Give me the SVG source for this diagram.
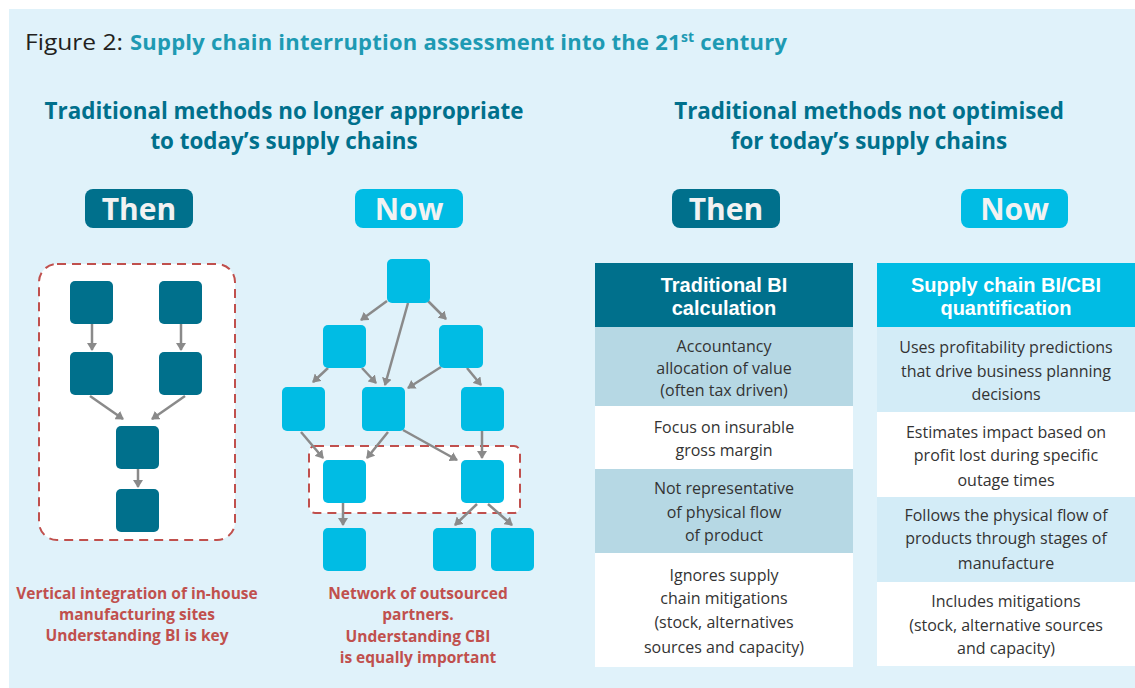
<svg xmlns="http://www.w3.org/2000/svg" width="1135" height="688" viewBox="0 0 1135 688">
<defs>
<style>
.bg{fill:#E0F2FA}
.dk{fill:#00708C}
.cy{fill:#00BCE4}
.pill{font-family:"Open Sans","Liberation Sans",sans-serif;font-weight:bold;font-size:30px;fill:#F2F2F2;text-anchor:middle}
.head{font-family:"Open Sans","Liberation Sans",sans-serif;font-weight:bold;font-size:22.4px;fill:#00708C;text-anchor:middle}
.th{font-family:"Liberation Sans",Arial,sans-serif;font-weight:bold;font-size:20px;fill:#FFFFFF;text-anchor:middle}
.td{font-family:"Open Sans","Liberation Sans",sans-serif;font-size:16px;fill:#333333;text-anchor:middle}
.red{font-family:"Open Sans","Liberation Sans",sans-serif;font-weight:bold;font-size:15.5px;fill:#C0504D;text-anchor:middle}
.dash{fill:#FFFFFF;stroke:#C0504D;stroke-width:2;stroke-dasharray:9 6}
.ar{stroke:#8A8A8A;stroke-width:2.5;fill:none;marker-end:url(#ah)}
</style>
<marker id="ah" viewBox="0 0 8 10" refX="7" refY="5" markerWidth="8" markerHeight="10" markerUnits="userSpaceOnUse" orient="auto">
<path d="M0,0 L8,5 L0,10 z" fill="#8A8A8A"/>
</marker>
</defs>
<rect x="0" y="0" width="1135" height="688" fill="#FFFFFF"/>
<rect class="bg" x="9" y="9" width="1126" height="679"/>

<g id="title">
<text x="25" y="50" font-family="Open Sans,Liberation Sans,sans-serif" font-size="22" fill="#231F20" textLength="98" lengthAdjust="spacingAndGlyphs">Figure 2:</text>
<text x="130" y="50" font-family="Open Sans,Liberation Sans,sans-serif" font-size="22" font-weight="bold" fill="#1E9AB3" textLength="657">Supply chain interruption assessment into the 21<tspan font-size="14" baseline-shift="8">st</tspan> century</text>
</g>

<g id="heading-left">
<text class="head" x="284" y="119">Traditional methods no longer appropriate</text>
<text class="head" x="284" y="149">to today’s supply chains</text>
</g>
<g id="heading-right">
<text class="head" x="869" y="119">Traditional methods not optimised</text>
<text class="head" x="869" y="149">for today’s supply chains</text>
</g>

<g id="pill-then-left"><rect class="dk" x="85" y="189" width="108" height="39" rx="8"/><text class="pill" x="139" y="220">Then</text></g>
<g id="pill-now-left"><rect class="cy" x="355" y="189" width="108" height="39" rx="8"/><text class="pill" x="409" y="220">Now</text></g>
<g id="pill-then-right"><rect class="dk" x="672" y="189" width="108" height="39" rx="8"/><text class="pill" x="726" y="220">Then</text></g>
<g id="pill-now-right"><rect class="cy" x="961" y="189" width="107" height="39" rx="8"/><text class="pill" x="1014.5" y="220">Now</text></g>

<g id="then-frame"><rect class="dash" x="39" y="264" width="196" height="276" rx="18"/></g>
<g id="now-frame"><rect class="dash" x="309" y="446" width="211" height="67" rx="6"/></g>

<g id="connectors">
<line class="ar" x1="92" y1="324" x2="92" y2="350"/>
<line class="ar" x1="181" y1="324" x2="181" y2="350"/>
<line class="ar" x1="90" y1="396" x2="123" y2="419"/>
<line class="ar" x1="185" y1="396" x2="152" y2="419"/>
<line class="ar" x1="138" y1="469" x2="138" y2="487"/>

<line class="ar" x1="387" y1="301" x2="361" y2="320"/>
<line class="ar" x1="428" y1="301" x2="446" y2="319"/>
<line class="ar" x1="408" y1="303" x2="385" y2="385"/>
<line class="ar" x1="328" y1="368" x2="313" y2="382"/>
<line class="ar" x1="362" y1="368" x2="376" y2="383"/>
<line class="ar" x1="441" y1="367" x2="408" y2="388"/>
<line class="ar" x1="467" y1="368" x2="481" y2="385"/>
<line class="ar" x1="301" y1="432" x2="323" y2="458"/>
<line class="ar" x1="388" y1="432" x2="367" y2="458"/>
<line class="ar" x1="403" y1="430" x2="457" y2="460"/>
<line class="ar" x1="482" y1="431" x2="482" y2="458"/>
<line class="ar" x1="343" y1="503" x2="343" y2="525"/>
<line class="ar" x1="477" y1="504" x2="455" y2="525"/>
<line class="ar" x1="488" y1="504" x2="512" y2="525"/>
</g>

<g id="then-nodes">
<rect id="t1" class="dk" x="70" y="281" width="43" height="43" rx="5"/>
<rect id="t2" class="dk" x="159" y="281" width="43" height="43" rx="5"/>
<rect id="t3" class="dk" x="70" y="352" width="43" height="43" rx="5"/>
<rect id="t4" class="dk" x="159" y="352" width="43" height="43" rx="5"/>
<rect id="t5" class="dk" x="116" y="426" width="43" height="43" rx="5"/>
<rect id="t6" class="dk" x="116" y="489" width="43" height="43" rx="5"/>
</g>

<g id="now-nodes">
<rect id="n1" class="cy" x="387" y="259" width="43" height="44" rx="5"/>
<rect id="n2" class="cy" x="323" y="325" width="43" height="43" rx="5"/>
<rect id="n3" class="cy" x="439" y="325" width="44" height="43" rx="5"/>
<rect id="n4" class="cy" x="282" y="387" width="43" height="44" rx="5"/>
<rect id="n5" class="cy" x="362" y="387" width="43" height="44" rx="5"/>
<rect id="n6" class="cy" x="461" y="387" width="43" height="44" rx="5"/>
<rect id="n7" class="cy" x="323" y="460" width="43" height="43" rx="5"/>
<rect id="n8" class="cy" x="461" y="460" width="43" height="43" rx="5"/>
<rect id="n9" class="cy" x="323" y="528" width="43" height="43" rx="5"/>
<rect id="n10" class="cy" x="433" y="528" width="43" height="43" rx="5"/>
<rect id="n11" class="cy" x="491" y="528" width="43" height="43" rx="5"/>
</g>

<g id="caption-then">
<text class="red" x="137" y="599">Vertical integration of in-house</text>
<text class="red" x="137" y="620">manufacturing sites</text>
<text class="red" x="137" y="641">Understanding BI is key</text>
</g>
<g id="caption-now">
<text class="red" x="418" y="599">Network of outsourced</text>
<text class="red" x="418" y="620">partners.</text>
<text class="red" x="418" y="642">Understanding CBI</text>
<text class="red" x="418" y="663">is equally important</text>
</g>

<g id="table-left">
<rect x="595" y="263" width="258" height="64" fill="#00708C"/>
<rect x="595" y="327" width="258" height="79" fill="#B6D8E4"/>
<rect x="595" y="406" width="258" height="63" fill="#FFFFFF"/>
<rect x="595" y="469" width="258" height="84" fill="#B6D8E4"/>
<rect x="595" y="553" width="258" height="114" fill="#FFFFFF"/>
<text class="th" x="724" y="292">Traditional BI</text>
<text class="th" x="724" y="315">calculation</text>
<text class="td" x="724" y="352">Accountancy</text>
<text class="td" x="724" y="374">allocation of value</text>
<text class="td" x="724" y="396">(often tax driven)</text>
<text class="td" x="724" y="433">Focus on insurable</text>
<text class="td" x="724" y="456">gross margin</text>
<text class="td" x="724" y="494">Not representative</text>
<text class="td" x="724" y="518">of physical flow</text>
<text class="td" x="724" y="541">of product</text>
<text class="td" x="724" y="581">Ignores supply</text>
<text class="td" x="724" y="604">chain mitigations</text>
<text class="td" x="724" y="628">(stock, alternatives</text>
<text class="td" x="724" y="653">sources and capacity)</text>
</g>

<g id="table-right">
<rect x="877" y="263" width="258" height="64" fill="#00BCE4"/>
<rect x="877" y="327" width="258" height="85" fill="#D3ECF7"/>
<rect x="877" y="412" width="258" height="85" fill="#FFFFFF"/>
<rect x="877" y="497" width="258" height="85" fill="#D3ECF7"/>
<rect x="877" y="582" width="258" height="84" fill="#FFFFFF"/>
<text class="th" x="1006" y="292">Supply chain BI/CBI</text>
<text class="th" x="1006" y="315">quantification</text>
<text class="td" x="1006" y="353">Uses profitability predictions</text>
<text class="td" x="1006" y="377">that drive business planning</text>
<text class="td" x="1006" y="400">decisions</text>
<text class="td" x="1006" y="438">Estimates impact based on</text>
<text class="td" x="1006" y="461">profit lost during specific</text>
<text class="td" x="1006" y="486">outage times</text>
<text class="td" x="1006" y="521">Follows the physical flow of</text>
<text class="td" x="1006" y="544">products through stages of</text>
<text class="td" x="1006" y="569">manufacture</text>
<text class="td" x="1006" y="607">Includes mitigations</text>
<text class="td" x="1006" y="631">(stock, alternative sources</text>
<text class="td" x="1006" y="654">and capacity)</text>
</g>
</svg>
